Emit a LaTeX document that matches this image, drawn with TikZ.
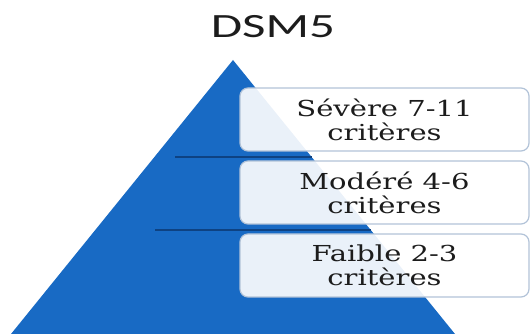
\documentclass[tikz,border=0pt]{standalone}
\usepackage{fontspec}
\usepackage{tikz}
\usetikzlibrary{positioning, calc}
\newfontfamily\titrefont[FakeStretch=1.5]{Carlito}
\newfontfamily\critfont[FakeStretch=1.32]{DejaVu Serif}
\definecolor{pyrblue}{RGB}{24,106,196}
\definecolor{lineblue}{RGB}{14,66,130}
\definecolor{boxline}{RGB}{178,195,216}
\definecolor{txtgray}{RGB}{28,28,28}

\begin{document}
\begin{tikzpicture}[x=1pt, y=-1pt,
    niveau/.style={draw=boxline, line width=1.2pt, rounded corners=8pt,
        fill=white, fill opacity=0.91, text opacity=1,
        minimum width=289pt, minimum height=63pt, outer sep=0pt,
        align=center, text=txtgray, font=\critfont\fontsize{22}{24}\selectfont}]
        \useasboundingbox (0,0) rectangle (531,334);

        % Pyramide
        \coordinate (sommet) at (233,60);
        \coordinate (basegauche) at (11,334);
        \coordinate (basedroite) at (455,334);
        \fill[pyrblue] (sommet) -- (basedroite) -- (basegauche) -- cycle;

        % Separations
        \draw[lineblue, line width=2.2pt] (175,157) -- (312,157);
        \draw[lineblue, line width=2.2pt] (155,230) -- (371,230);

        % Titre
        \node[font=\titrefont\fontsize{34}{34}\selectfont, text=txtgray] (titre) at (273,27) {DSM5};

        % Niveaux
        \node[niveau] (severe) at (384.5,119.5) {Sévère 7-11\\critères};
        \node[niveau, below=10pt of severe] (modere) {Modéré 4-6\\critères};
        \node[niveau, below=10pt of modere] (faible) {Faible 2-3\\critères};
    \end{tikzpicture}
\end{document}
